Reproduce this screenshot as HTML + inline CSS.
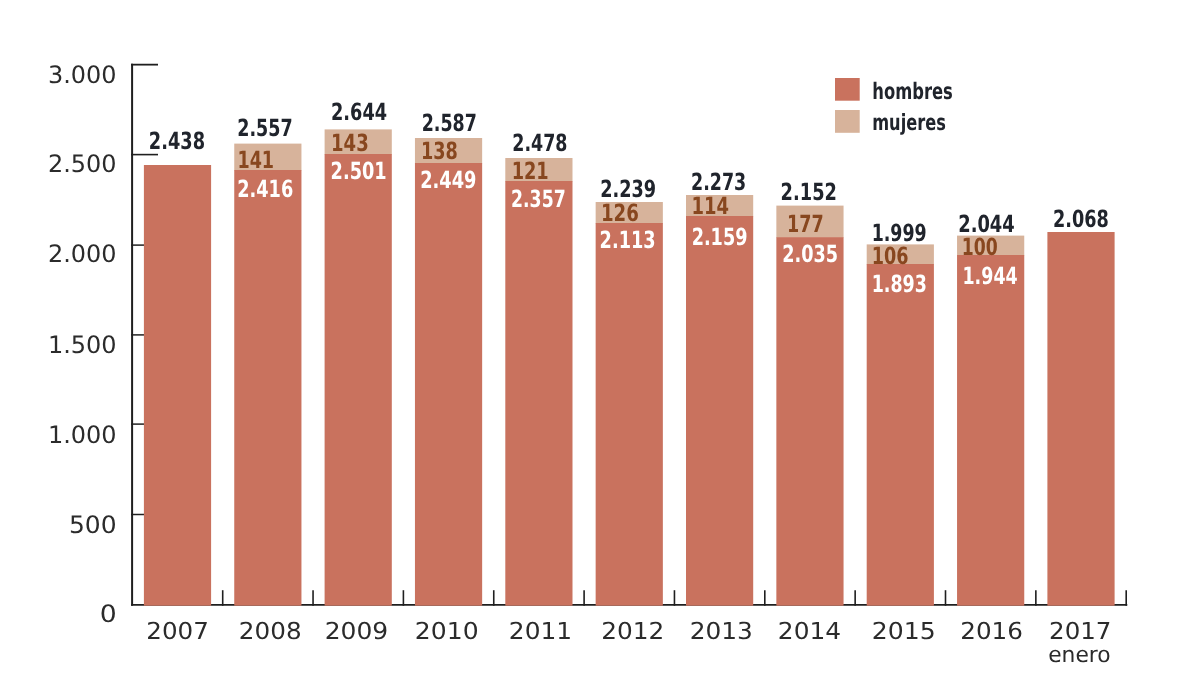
<!DOCTYPE html>
<html lang="es">
<head>
<meta charset="utf-8">
<title>hombres y mujeres, 2007-2017</title>
<style>
html,body{margin:0;padding:0;background:#fff;}
body{width:1200px;height:675px;overflow:hidden;}
svg text{text-rendering:geometricPrecision;}
</style>
</head>
<body>
<svg width="1200" height="675" viewBox="0 0 1200 675" style="display:block">
<rect width="1200" height="675" fill="#ffffff"/>
<g stroke="#1f1f1f" stroke-width="2" fill="none" stroke-linecap="butt">
<path d="M132.1 63.75 V605.8" stroke-width="2"/>
<path d="M131 604.9 H1127.3" stroke-width="1.8"/>
<path d="M131.05 64.65 H158" stroke-width="1.8"/>
<path d="M131.05 154.6 H158" stroke-width="1.6"/>
<path d="M131.05 245.1 H145" stroke-width="1.5"/>
<path d="M131.05 334.9 H145" stroke-width="1.5"/>
<path d="M131.05 424.1 H145" stroke-width="1.5"/>
<path d="M131.05 514.5 H145" stroke-width="1.5"/>
<path d="M222.70 590.2 V605.8" stroke-width="1.6"/>
<path d="M313.05 590.2 V605.8" stroke-width="1.6"/>
<path d="M403.40 590.2 V605.8" stroke-width="1.6"/>
<path d="M493.75 590.2 V605.8" stroke-width="1.6"/>
<path d="M584.10 590.2 V605.8" stroke-width="1.6"/>
<path d="M674.45 590.2 V605.8" stroke-width="1.6"/>
<path d="M764.80 590.2 V605.8" stroke-width="1.6"/>
<path d="M855.15 590.2 V605.8" stroke-width="1.6"/>
<path d="M945.50 590.2 V605.8" stroke-width="1.6"/>
<path d="M1035.85 590.2 V605.8" stroke-width="1.6"/>
<path d="M1126.20 590.2 V605.8" stroke-width="1.6"/>
</g>
<rect x="143.90" y="165" width="67.2" height="440.70" fill="#C9725E"/>
<rect x="234.25" y="143.6" width="67.2" height="26.90" fill="#D7B39B"/>
<rect x="234.25" y="170" width="67.2" height="435.70" fill="#C9725E"/>
<rect x="324.60" y="129.4" width="67.2" height="25.10" fill="#D7B39B"/>
<rect x="324.60" y="154" width="67.2" height="451.70" fill="#C9725E"/>
<rect x="414.95" y="138" width="67.2" height="25.50" fill="#D7B39B"/>
<rect x="414.95" y="163" width="67.2" height="442.70" fill="#C9725E"/>
<rect x="505.30" y="158" width="67.2" height="23.50" fill="#D7B39B"/>
<rect x="505.30" y="181" width="67.2" height="424.70" fill="#C9725E"/>
<rect x="595.65" y="202" width="67.2" height="21.50" fill="#D7B39B"/>
<rect x="595.65" y="223" width="67.2" height="382.70" fill="#C9725E"/>
<rect x="686.00" y="195" width="67.2" height="21.50" fill="#D7B39B"/>
<rect x="686.00" y="216" width="67.2" height="389.70" fill="#C9725E"/>
<rect x="776.35" y="205.6" width="67.2" height="32.10" fill="#D7B39B"/>
<rect x="776.35" y="237.2" width="67.2" height="368.50" fill="#C9725E"/>
<rect x="866.70" y="244.4" width="67.2" height="20.10" fill="#D7B39B"/>
<rect x="866.70" y="264" width="67.2" height="341.70" fill="#C9725E"/>
<rect x="957.05" y="235.6" width="67.2" height="19.90" fill="#D7B39B"/>
<rect x="957.05" y="255" width="67.2" height="350.70" fill="#C9725E"/>
<rect x="1047.40" y="232" width="67.2" height="373.70" fill="#C9725E"/>
<rect x="835" y="78" width="24.7" height="22.7" fill="#C9725E"/>
<rect x="835" y="110" width="24.7" height="22.8" fill="#D7B39B"/>
<text transform="translate(148.82 148.96) scale(0.8337 1)" font-family='"DejaVu Sans Condensed","DejaVu Sans","Liberation Sans",sans-serif' font-weight="bold" font-size="23.68" fill="#20242c">2.438</text>
<text transform="translate(237.24 136.26) scale(0.8227 1)" font-family='"DejaVu Sans Condensed","DejaVu Sans","Liberation Sans",sans-serif' font-weight="bold" font-size="23.68" fill="#20242c">2.557</text>
<text transform="translate(331.02 120.26) scale(0.8322 1)" font-family='"DejaVu Sans Condensed","DejaVu Sans","Liberation Sans",sans-serif' font-weight="bold" font-size="23.68" fill="#20242c">2.644</text>
<text transform="translate(421.64 130.66) scale(0.8196 1)" font-family='"DejaVu Sans Condensed","DejaVu Sans","Liberation Sans",sans-serif' font-weight="bold" font-size="23.68" fill="#20242c">2.587</text>
<text transform="translate(512.24 150.66) scale(0.8198 1)" font-family='"DejaVu Sans Condensed","DejaVu Sans","Liberation Sans",sans-serif' font-weight="bold" font-size="23.68" fill="#20242c">2.478</text>
<text transform="translate(600.23 196.66) scale(0.8290 1)" font-family='"DejaVu Sans Condensed","DejaVu Sans","Liberation Sans",sans-serif' font-weight="bold" font-size="23.68" fill="#20242c">2.239</text>
<text transform="translate(691.04 189.66) scale(0.8196 1)" font-family='"DejaVu Sans Condensed","DejaVu Sans","Liberation Sans",sans-serif' font-weight="bold" font-size="23.68" fill="#20242c">2.273</text>
<text transform="translate(780.62 199.86) scale(0.8351 1)" font-family='"DejaVu Sans Condensed","DejaVu Sans","Liberation Sans",sans-serif' font-weight="bold" font-size="23.68" fill="#20242c">2.152</text>
<text transform="translate(871.67 240.66) scale(0.8163 1)" font-family='"DejaVu Sans Condensed","DejaVu Sans","Liberation Sans",sans-serif' font-weight="bold" font-size="23.68" fill="#20242c">1.999</text>
<text transform="translate(958.21 231.86) scale(0.8384 1)" font-family='"DejaVu Sans Condensed","DejaVu Sans","Liberation Sans",sans-serif' font-weight="bold" font-size="23.68" fill="#20242c">2.044</text>
<text transform="translate(1053.03 226.66) scale(0.8291 1)" font-family='"DejaVu Sans Condensed","DejaVu Sans","Liberation Sans",sans-serif' font-weight="bold" font-size="23.68" fill="#20242c">2.068</text>
<text transform="translate(237.45 168.26) scale(0.8239 1)" font-family='"DejaVu Sans Condensed","DejaVu Sans","Liberation Sans",sans-serif' font-weight="bold" font-size="23.68" fill="#88471f">141</text>
<text transform="translate(330.99 150.66) scale(0.8484 1)" font-family='"DejaVu Sans Condensed","DejaVu Sans","Liberation Sans",sans-serif' font-weight="bold" font-size="23.68" fill="#88471f">143</text>
<text transform="translate(421.04 159.26) scale(0.8289 1)" font-family='"DejaVu Sans Condensed","DejaVu Sans","Liberation Sans",sans-serif' font-weight="bold" font-size="23.68" fill="#88471f">138</text>
<text transform="translate(511.63 178.86) scale(0.8337 1)" font-family='"DejaVu Sans Condensed","DejaVu Sans","Liberation Sans",sans-serif' font-weight="bold" font-size="23.68" fill="#88471f">121</text>
<text transform="translate(600.98 221.26) scale(0.8532 1)" font-family='"DejaVu Sans Condensed","DejaVu Sans","Liberation Sans",sans-serif' font-weight="bold" font-size="23.68" fill="#88471f">126</text>
<text transform="translate(691.60 214.26) scale(0.8435 1)" font-family='"DejaVu Sans Condensed","DejaVu Sans","Liberation Sans",sans-serif' font-weight="bold" font-size="23.68" fill="#88471f">114</text>
<text transform="translate(787.05 231.86) scale(0.8238 1)" font-family='"DejaVu Sans Condensed","DejaVu Sans","Liberation Sans",sans-serif' font-weight="bold" font-size="23.68" fill="#88471f">177</text>
<text transform="translate(871.64 263.66) scale(0.8289 1)" font-family='"DejaVu Sans Condensed","DejaVu Sans","Liberation Sans",sans-serif' font-weight="bold" font-size="23.68" fill="#88471f">106</text>
<text transform="translate(961.68 254.66) scale(0.8096 1)" font-family='"DejaVu Sans Condensed","DejaVu Sans","Liberation Sans",sans-serif' font-weight="bold" font-size="23.68" fill="#88471f">100</text>
<text transform="translate(237.22 196.66) scale(0.8322 1)" font-family='"DejaVu Sans Condensed","DejaVu Sans","Liberation Sans",sans-serif' font-weight="bold" font-size="23.68" fill="#ffffff">2.416</text>
<text transform="translate(330.62 179.26) scale(0.8321 1)" font-family='"DejaVu Sans Condensed","DejaVu Sans","Liberation Sans",sans-serif' font-weight="bold" font-size="23.68" fill="#ffffff">2.501</text>
<text transform="translate(420.22 187.86) scale(0.8352 1)" font-family='"DejaVu Sans Condensed","DejaVu Sans","Liberation Sans",sans-serif' font-weight="bold" font-size="23.68" fill="#ffffff">2.449</text>
<text transform="translate(511.06 207.26) scale(0.8102 1)" font-family='"DejaVu Sans Condensed","DejaVu Sans","Liberation Sans",sans-serif' font-weight="bold" font-size="23.68" fill="#ffffff">2.357</text>
<text transform="translate(599.62 247.86) scale(0.8321 1)" font-family='"DejaVu Sans Condensed","DejaVu Sans","Liberation Sans",sans-serif' font-weight="bold" font-size="23.68" fill="#ffffff">2.113</text>
<text transform="translate(691.63 244.66) scale(0.8290 1)" font-family='"DejaVu Sans Condensed","DejaVu Sans","Liberation Sans",sans-serif' font-weight="bold" font-size="23.68" fill="#ffffff">2.159</text>
<text transform="translate(782.23 262.26) scale(0.8290 1)" font-family='"DejaVu Sans Condensed","DejaVu Sans","Liberation Sans",sans-serif' font-weight="bold" font-size="23.68" fill="#ffffff">2.035</text>
<text transform="translate(871.66 292.26) scale(0.8193 1)" font-family='"DejaVu Sans Condensed","DejaVu Sans","Liberation Sans",sans-serif' font-weight="bold" font-size="23.68" fill="#ffffff">1.893</text>
<text transform="translate(962.46 283.66) scale(0.8196 1)" font-family='"DejaVu Sans Condensed","DejaVu Sans","Liberation Sans",sans-serif' font-weight="bold" font-size="23.68" fill="#ffffff">1.944</text>
<text transform="translate(872.23 98.80) scale(0.8041 1)" font-family='"DejaVu Sans Condensed","DejaVu Sans","Liberation Sans",sans-serif' font-weight="bold" font-size="22.63" fill="#20242c">hombres</text>
<text transform="translate(872.24 130.18) scale(0.8098 1)" font-family='"DejaVu Sans Condensed","DejaVu Sans","Liberation Sans",sans-serif' font-weight="bold" font-size="22.24" fill="#20242c">mujeres</text>
<text transform="translate(48.02 83.06) scale(1.0001 1)" font-family='"DejaVu Sans","Liberation Sans",sans-serif' font-weight="normal" font-size="23.95" fill="#2b2b2b">3.000</text>
<text transform="translate(48.02 171.96) scale(1.0001 1)" font-family='"DejaVu Sans","Liberation Sans",sans-serif' font-weight="normal" font-size="23.95" fill="#2b2b2b">2.500</text>
<text transform="translate(48.02 261.96) scale(1.0001 1)" font-family='"DejaVu Sans","Liberation Sans",sans-serif' font-weight="normal" font-size="23.95" fill="#2b2b2b">2.000</text>
<text transform="translate(47.90 352.66) scale(1.0019 1)" font-family='"DejaVu Sans","Liberation Sans",sans-serif' font-weight="normal" font-size="23.95" fill="#2b2b2b">1.500</text>
<text transform="translate(47.90 442.86) scale(1.0019 1)" font-family='"DejaVu Sans","Liberation Sans",sans-serif' font-weight="normal" font-size="23.95" fill="#2b2b2b">1.000</text>
<text transform="translate(68.95 532.96) scale(1.0437 1)" font-family='"DejaVu Sans","Liberation Sans",sans-serif' font-weight="normal" font-size="23.95" fill="#2b2b2b">500</text>
<text transform="translate(99.80 621.66) scale(1.1136 1)" font-family='"DejaVu Sans","Liberation Sans",sans-serif' font-weight="normal" font-size="23.95" fill="#2b2b2b">0</text>
<text transform="translate(146.28 639.37) scale(1.0502 1)" font-family='"DejaVu Sans","Liberation Sans",sans-serif' font-weight="normal" font-size="23.42" fill="#2b2b2b">2007</text>
<text transform="translate(238.87 639.37) scale(1.0529 1)" font-family='"DejaVu Sans","Liberation Sans",sans-serif' font-weight="normal" font-size="23.42" fill="#2b2b2b">2008</text>
<text transform="translate(324.65 639.37) scale(1.0671 1)" font-family='"DejaVu Sans","Liberation Sans",sans-serif' font-weight="normal" font-size="23.42" fill="#2b2b2b">2009</text>
<text transform="translate(414.84 639.37) scale(1.0707 1)" font-family='"DejaVu Sans","Liberation Sans",sans-serif' font-weight="normal" font-size="23.42" fill="#2b2b2b">2010</text>
<text transform="translate(508.86 639.37) scale(1.0617 1)" font-family='"DejaVu Sans","Liberation Sans",sans-serif' font-weight="normal" font-size="23.42" fill="#2b2b2b">2011</text>
<text transform="translate(601.26 639.37) scale(1.0590 1)" font-family='"DejaVu Sans","Liberation Sans",sans-serif' font-weight="normal" font-size="23.42" fill="#2b2b2b">2012</text>
<text transform="translate(689.66 639.37) scale(1.0609 1)" font-family='"DejaVu Sans","Liberation Sans",sans-serif' font-weight="normal" font-size="23.42" fill="#2b2b2b">2013</text>
<text transform="translate(777.86 639.37) scale(1.0618 1)" font-family='"DejaVu Sans","Liberation Sans",sans-serif' font-weight="normal" font-size="23.42" fill="#2b2b2b">2014</text>
<text transform="translate(871.84 639.37) scale(1.0725 1)" font-family='"DejaVu Sans","Liberation Sans",sans-serif' font-weight="normal" font-size="23.42" fill="#2b2b2b">2015</text>
<text transform="translate(960.28 639.37) scale(1.0521 1)" font-family='"DejaVu Sans","Liberation Sans",sans-serif' font-weight="normal" font-size="23.42" fill="#2b2b2b">2016</text>
<text transform="translate(1049.08 639.37) scale(1.0466 1)" font-family='"DejaVu Sans","Liberation Sans",sans-serif' font-weight="normal" font-size="23.42" fill="#2b2b2b">2017</text>
<text transform="translate(1048.21 662.18) scale(0.9871 1)" font-family='"DejaVu Sans","Liberation Sans",sans-serif' font-weight="normal" font-size="22.07" fill="#2b2b2b">enero</text>
</svg>
</body>
</html>
